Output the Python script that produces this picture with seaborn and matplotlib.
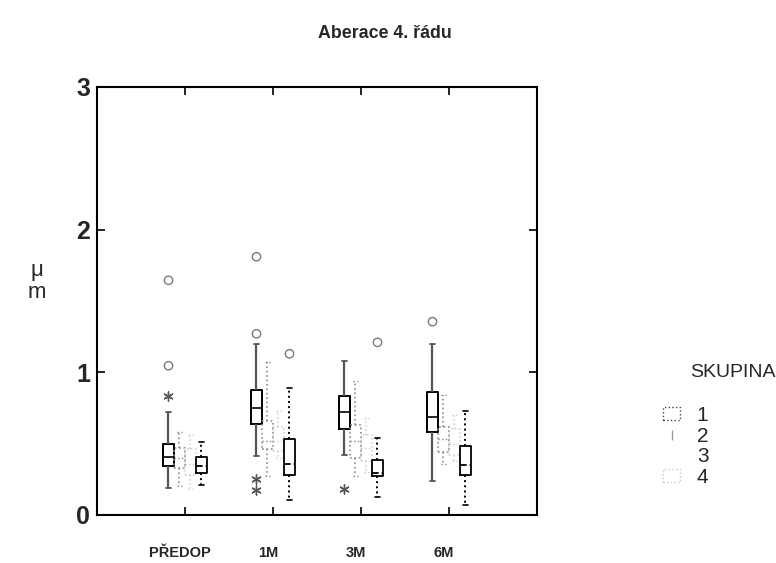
import numpy as np
import pandas as pd
import matplotlib
matplotlib.use("Agg")
import matplotlib.pyplot as plt
import matplotlib.transforms as mtrans
from matplotlib.lines import Line2D
from matplotlib.patches import Patch
import seaborn as sns

# ---------------- data ----------------
times = ["PŘEDOP", "1M", "3M", "6M"]
groups = ["1", "2", "3", "4"]

# [lower whisker, Q1, median, Q3, upper whisker] per time point
skupina1 = [[0.19, 0.34, 0.405, 0.50, 0.72],
            [0.41, 0.636, 0.75, 0.873, 1.20],
            [0.42, 0.604, 0.725, 0.836, 1.08],
            [0.24, 0.585, 0.686, 0.861, 1.20]]
skupina2 = [[0.20, 0.33, 0.40, 0.47, 0.58],
            [0.27, 0.46, 0.52, 0.66, 1.07],
            [0.27, 0.40, 0.52, 0.63, 0.94],
            [0.36, 0.44, 0.53, 0.62, 0.84]]
skupina3 = [[0.18, 0.28, 0.36, 0.46, 0.56],
            [0.40, 0.45, 0.52, 0.62, 0.73],
            [0.30, 0.38, 0.47, 0.56, 0.68],
            [0.38, 0.42, 0.50, 0.60, 0.70]]
skupina4 = [[0.21, 0.293, 0.344, 0.405, 0.515],
            [0.105, 0.281, 0.358, 0.534, 0.89],
            [0.129, 0.27, 0.297, 0.386, 0.538],
            [0.07, 0.281, 0.351, 0.484, 0.73]]

outlier_time = ["PŘEDOP", "PŘEDOP", "PŘEDOP", "1M", "1M", "1M", "1M", "1M", "3M", "3M", "6M"]
outlier_group = ["1", "1", "1", "1", "1", "1", "1", "4", "1", "4", "1"]
outlier_value = [1.645, 1.046, 0.836, 1.81, 1.27, 0.25, 0.175, 1.13, 0.18, 1.21, 1.355]
outlier_kind = ["o", "o", "*", "o", "o", "*", "*", "o", "*", "o", "o"]

y_ticks = [0, 1, 2, 3]

# ---------------- build long-form table ----------------
all_stats = {"1": skupina1, "2": skupina2, "3": skupina3, "4": skupina4}
rows = []
for g, per_time in all_stats.items():
    for t, vals in zip(times, per_time):
        for v in vals:
            rows.append({"time": t, "SKUPINA": g, "value": v})
df = pd.DataFrame(rows)

# ---------------- figure ----------------
sns.set_style("ticks")
plt.rcParams["font.family"] = ["Liberation Sans", "DejaVu Sans"]

fig = plt.figure(figsize=(7.76, 5.63), dpi=100)
ax = fig.add_axes([0.125, 0.0853, 0.567, 0.7602])

BOX_WIDTH = 0.5
palette = {"1": "black", "2": "#8c8c8c", "3": "#cdcdcd", "4": "black"}
styles = {
    "1": dict(boxprops=dict(linewidth=1.4, linestyle="-"),
              whiskerprops=dict(color="#555555", linewidth=1.6),
              capprops=dict(color="#555555", linewidth=1.3),
              medianprops=dict(color="black", linewidth=1.2)),
    "2": dict(boxprops=dict(linewidth=1.2, linestyle=":"),
              whiskerprops=dict(linewidth=1.2, linestyle=":"),
              capprops=dict(linewidth=1.0, linestyle=":"),
              medianprops=dict(linewidth=1.0, linestyle=":")),
    "3": dict(boxprops=dict(linewidth=1.1, linestyle=":"),
              whiskerprops=dict(linewidth=1.1, linestyle=":"),
              capprops=dict(linewidth=1.0, linestyle=":"),
              medianprops=dict(linewidth=1.0, linestyle=":")),
    "4": dict(boxprops=dict(linewidth=1.3, linestyle="-"),
              whiskerprops=dict(linewidth=1.4, linestyle=":"),
              capprops=dict(linewidth=1.2),
              medianprops=dict(linewidth=1.3, linestyle="--")),
}

for g in groups:
    sub = df[df["SKUPINA"] == g]
    sns.boxplot(data=sub, x="time", y="value", hue="SKUPINA",
                order=times, hue_order=groups, palette=palette,
                dodge=True, width=BOX_WIDTH, gap=0, fill=False,
                whis=(0, 100), showfliers=False, legend=False, ax=ax,
                **styles[g])

# outliers at the dodged positions
n = len(groups)
each = BOX_WIDTH / n
offsets = np.linspace(0, BOX_WIDTH - each, n)
offsets -= offsets.mean()
odf = pd.DataFrame({"time": outlier_time, "SKUPINA": outlier_group,
                    "value": outlier_value, "kind": outlier_kind})
odf["x"] = [times.index(t) + offsets[groups.index(g)]
            for t, g in zip(odf["time"], odf["SKUPINA"])]
circ = odf[odf["kind"] == "o"]
star = odf[odf["kind"] == "*"]
sns.scatterplot(data=circ, x="x", y="value", marker="o", s=36,
                facecolors="none", edgecolor="#7a7a7a", linewidth=1.0,
                ax=ax, legend=False)
sns.scatterplot(data=star, x="x", y="value", marker=(6, 2, 0), s=45,
                color="#555555", linewidth=1.0, ax=ax, legend=False)

# ---------------- axes styling ----------------
ax.set_xlim(-1.0, 4.0)
ax.set_ylim(0, 3)
ax.set_xlabel("")
ax.set_ylabel("")
ax.set_xticks(range(len(times)))
ax.set_xticklabels(times, fontsize=10.5, fontweight="bold")
ax.set_yticks(y_ticks)
ax.set_yticklabels([str(v) for v in y_ticks], fontsize=18, fontweight="bold")
ax.tick_params(axis="both", direction="in", length=6, width=1.2,
               top=True, right=True, color="black")
ax.tick_params(axis="x", pad=22)
ax.tick_params(axis="y", pad=5)
for lab in ax.get_xticklabels():
    lab.set_transform(lab.get_transform() +
                      mtrans.ScaledTranslation(-5 / 100, 0, fig.dpi_scale_trans))
for sp in ax.spines.values():
    sp.set_visible(True)
    sp.set_linewidth(1.5)
    sp.set_color("black")

# title and axis label
fig.text(0.496, 0.941, "Aberace 4. řádu", ha="center", va="center",
         fontsize=12.8, fontweight="bold")
fig.text(0.048, 0.500, "μ\nm", ha="center", va="center", fontsize=16,
         linespacing=1.05)

# legend
handles = [
    Patch(facecolor="white", edgecolor="#444444", linestyle=":", linewidth=1.0),
    Line2D([], [], color="#9a9a9a", marker="|", linestyle="none", markersize=7),
    Patch(facecolor="white", edgecolor="white", linewidth=0),
    Patch(facecolor="white", edgecolor="#c8c8c8", linestyle=":", linewidth=1.0),
]
fig.text(0.889, 0.339, "SKUPINA", ha="left", va="center", fontsize=14)
fig.legend(handles, groups, loc="upper left", bbox_to_anchor=(0.855, 0.279),
           frameon=False, fontsize=15, labelspacing=0.08, handlelength=0.8,
           handleheight=0.6, handletextpad=0.8, borderpad=0, borderaxespad=0)

fig.savefig("out.png", dpi=100)
